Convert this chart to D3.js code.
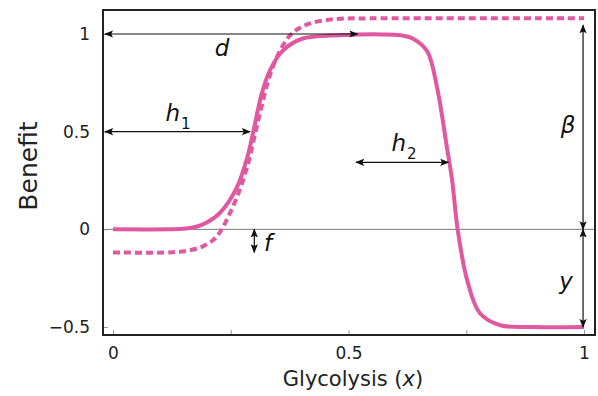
<!DOCTYPE html>
<html>
<head>
<meta charset="utf-8">
<script src="https://cdn.jsdelivr.net/npm/d3@7"></script>
<style>
  html, body { margin: 0; padding: 0; background: #fff; }
  svg { display: block; font-family: "DejaVu Sans", "Lato", sans-serif; }
</style>
</head>
<body>
<svg id="chart" width="598" height="396"></svg>
<script>
// Benefit of glycolysis: baseline curve (solid) and shifted curve (dashed)
const solidX = [0, 0.121, 0.150, 0.180, 0.200, 0.227, 0.263, 0.285, 0.297, 0.316, 0.333, 0.361, 0.403, 0.461, 0.518, 0.567, 0.610, 0.637, 0.667, 0.688, 0.709, 0.720, 0.732, 0.752, 0.779, 0.822, 0.892, 1];
const solidY = [0, 0, 0.003, 0.016, 0.036, 0.084, 0.215, 0.368, 0.49, 0.696, 0.813, 0.916, 0.977, 0.992, 0.997, 0.998, 0.994, 0.976, 0.912, 0.726, 0.419, 0.251, -0.005, -0.261, -0.43, -0.491, -0.5, -0.5];

const dashedX = [0, 0.121, 0.163, 0.191, 0.212, 0.227, 0.263, 0.287, 0.301, 0.316, 0.333, 0.355, 0.380, 0.418, 0.476, 0.546, 1];
const dashedY = [-0.118, -0.118, -0.107, -0.087, -0.056, -0.015, 0.164, 0.338, 0.481, 0.634, 0.788, 0.916, 1.003, 1.054, 1.077, 1.08, 1.08];

const xTicks = [0, 0.25, 0.5, 0.75, 1];
const xTickLabels = ["0", "", "0.5", "", "1"];
const yTicks = [-0.5, 0, 0.5, 1];
const yTickLabels = ["\u22120.5", "0", "0.5", "1"];

const pink = "#e0589f";

const svg = d3.select("#chart");
const frame = { left: 103, right: 595, top: 10, bottom: 335 };

const x = d3.scaleLinear().domain([0, 1]).range([113, 584]);
const y = d3.scaleLinear().domain([-0.5, 1]).range([327, 34]);

// arrow heads
const defs = svg.append("defs");
function marker(id, orient) {
  defs.append("marker")
    .attr("id", id)
    .attr("viewBox", "0 -5 10 10")
    .attr("refX", 9).attr("refY", 0)
    .attr("markerUnits", "userSpaceOnUse")
    .attr("markerWidth", 9).attr("markerHeight", 9)
    .attr("orient", orient)
    .append("path")
    .attr("d", "M0,-4L10,0L0,4L2,0Z")
    .attr("fill", "#111");
}
marker("head", "auto");
marker("tail", "auto-start-reverse");

// zero line
svg.append("line")
  .attr("x1", frame.left).attr("x2", frame.right)
  .attr("y1", y(0)).attr("y2", y(0))
  .attr("stroke", "#777").attr("stroke-width", 1);

// axes (ticks pointing inward)
const xAxis = d3.axisBottom(x).tickValues(xTicks)
  .tickSize(-5).tickPadding(12)
  .tickFormat((d, i) => xTickLabels[i]);
const gx = svg.append("g").attr("transform", `translate(0,${frame.bottom})`).call(xAxis);
gx.select(".domain").remove();
gx.selectAll(".tick line").attr("stroke", "#999");
gx.selectAll("text").attr("font-size", 17).attr("fill", "#222").attr("dy", "0.71em")
  .attr("font-family", "DejaVu Sans");

const yAxis = d3.axisLeft(y).tickValues(yTicks)
  .tickSize(-5).tickPadding(13)
  .tickFormat((d, i) => yTickLabels[i]);
const gy = svg.append("g").attr("transform", `translate(${frame.left},0)`).call(yAxis);
gy.select(".domain").remove();
gy.selectAll(".tick line").attr("stroke", "#999");
gy.selectAll("text").attr("font-size", 17).attr("fill", "#222")
  .attr("font-family", "DejaVu Sans");

// curves
const line = d3.line()
  .x(d => x(d[0])).y(d => y(d[1]))
  .curve(d3.curveCatmullRom.alpha(0.5));

svg.append("path")
  .datum(dashedX.map((v, i) => [v, dashedY[i]]))
  .attr("d", line)
  .attr("fill", "none").attr("stroke", pink)
  .attr("stroke-width", 4).attr("stroke-dasharray", "7,4");

svg.append("path")
  .datum(solidX.map((v, i) => [v, solidY[i]]))
  .attr("d", line)
  .attr("fill", "none").attr("stroke", pink)
  .attr("stroke-width", 4);

// frame
svg.append("rect")
  .attr("x", frame.left).attr("y", frame.top)
  .attr("width", frame.right - frame.left).attr("height", frame.bottom - frame.top)
  .attr("fill", "none").attr("stroke", "#222").attr("stroke-width", 2);

// parameter arrows
function arrow(x1, y1, x2, y2) {
  svg.append("line")
    .attr("x1", x1).attr("y1", y1).attr("x2", x2).attr("y2", y2)
    .attr("stroke", "#111").attr("stroke-width", 1.2)
    .attr("marker-start", "url(#tail)")
    .attr("marker-end", "url(#head)");
}
arrow(frame.left + 2, y(1), x(0.519), y(1));          // d
arrow(frame.left + 2, y(0.5), x(0.291), y(0.5));      // h1
arrow(x(0.516), y(0.343), x(0.712), y(0.343));        // h2
arrow(x(0.998), y(0), x(0.998), y(1.045));            // beta
arrow(x(0.998), y(0), x(0.998), y(-0.5));             // y
arrow(x(0.30), y(0), x(0.30), y(-0.118));             // f

// parameter labels
function label(tx, ty, main, sub) {
  const t = svg.append("text")
    .attr("x", tx).attr("y", ty)
    .attr("font-size", 23).attr("font-style", "italic")
    .attr("fill", "#111").attr("text-anchor", "middle");
  t.append("tspan").text(main);
  if (sub) {
    t.append("tspan").attr("dy", 8).attr("font-size", 15)
      .attr("font-style", "normal").attr("dx", 1).text(sub);
  }
}
label(222, 56, "d");
label(178, 121, "h", "1");
label(404, 151, "h", "2");
label(568, 133, "\u03b2");
label(566, 289, "y");
label(268, 251, "f");

// axis titles
svg.append("text")
  .attr("transform", `translate(37,166) rotate(-90)`)
  .attr("text-anchor", "middle")
  .attr("font-size", 25).attr("fill", "#222")
  .text("Benefit");

const xt = svg.append("text")
  .attr("x", 353).attr("y", 386)
  .attr("text-anchor", "middle")
  .attr("font-size", 21).attr("fill", "#222");
xt.append("tspan").text("Glycolysis (");
xt.append("tspan").attr("font-style", "italic").text("x");
xt.append("tspan").text(")");
</script>
</body>
</html>
